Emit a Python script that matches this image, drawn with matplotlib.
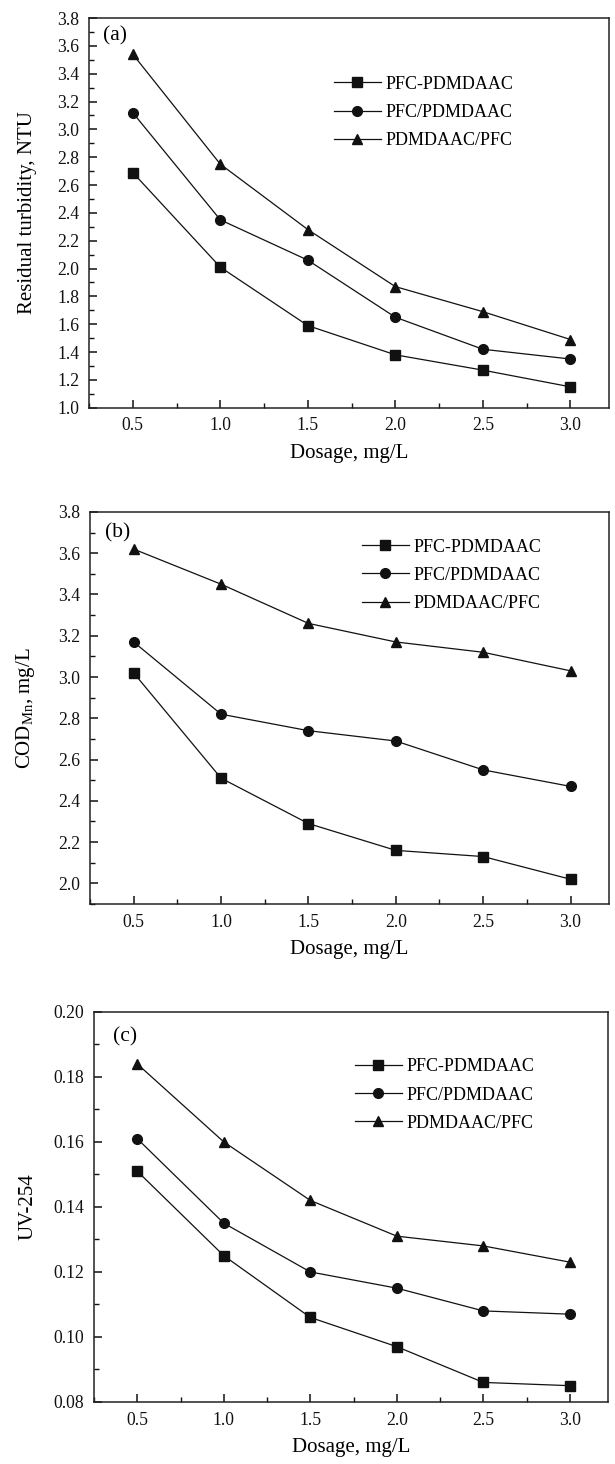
import numpy as np
import matplotlib.pyplot as plt
from matplotlib.ticker import MultipleLocator, FormatStrFormatter

plt.rcParams['font.family'] = ['Liberation Serif', 'DejaVu Serif']
plt.rcParams['mathtext.fontset'] = 'custom'
plt.rcParams['mathtext.rm'] = 'Liberation Serif'

dosage = [0.5, 1.0, 1.5, 2.0, 2.5, 3.0]
series_names = ['PFC-PDMDAAC', 'PFC/PDMDAAC', 'PDMDAAC/PFC']

# residual turbidity, NTU
turb_combined = [2.69, 2.01, 1.59, 1.38, 1.27, 1.15]
turb_pfc_first = [3.12, 2.35, 2.06, 1.65, 1.42, 1.35]
turb_pd_first = [3.54, 2.75, 2.28, 1.87, 1.69, 1.49]

# COD_Mn, mg/L
cod_combined = [3.02, 2.51, 2.29, 2.16, 2.13, 2.02]
cod_pfc_first = [3.17, 2.82, 2.74, 2.69, 2.55, 2.47]
cod_pd_first = [3.62, 3.45, 3.26, 3.17, 3.12, 3.03]

# UV-254
uv_combined = [0.151, 0.125, 0.106, 0.097, 0.086, 0.085]
uv_pfc_first = [0.161, 0.135, 0.120, 0.115, 0.108, 0.107]
uv_pd_first = [0.184, 0.160, 0.142, 0.131, 0.128, 0.123]

markers = ['s', 'o', '^']
msizes = [6.5, 7.0, 7.8]
ink = '#111111'

fig = plt.figure(figsize=(6.15, 14.64), dpi=100)

panels = [
    dict(rect=[0.1447, 0.7215, 0.8455, 0.2662], data=[turb_combined, turb_pfc_first, turb_pd_first],
         ylim=(1.0, 3.8), major=0.2, minor=0.1, fmt='%.1f', tag='(a)', tag_xy=(0.027, 0.955),
         ylabel='Residual turbidity, NTU', ylab_x=-0.10, leg=(0.471, 0.852)),
    dict(rect=[0.1463, 0.3825, 0.8439, 0.2678], data=[cod_combined, cod_pfc_first, cod_pd_first],
         ylim=(1.9, 3.8), major=0.2, minor=0.1, fmt='%.1f', tag='(b)', tag_xy=(0.029, 0.946),
         ylabel=r'COD$_{\mathrm{Mn}}$, mg/L', ylab_x=-0.103, leg=(0.524, 0.932)),
    dict(rect=[0.1528, 0.0424, 0.8358, 0.2664], data=[uv_combined, uv_pfc_first, uv_pd_first],
         ylim=(0.08, 0.20), major=0.02, minor=0.01, fmt='%.2f', tag='(c)', tag_xy=(0.037, 0.936),
         ylabel='UV-254', ylab_x=-0.11, leg=(0.507, 0.881)),
]

for p in panels:
    ax = fig.add_axes(p['rect'])
    for vals, m, ms, name in zip(p['data'], markers, msizes, series_names):
        ax.plot(dosage, vals, marker=m, color=ink, markersize=ms, linewidth=0.9, label=name)

    ax.set_xlim(0.25, 3.22)
    ax.set_ylim(*p['ylim'])
    ax.xaxis.set_major_locator(MultipleLocator(0.5))
    ax.xaxis.set_minor_locator(MultipleLocator(0.25))
    ax.xaxis.set_major_formatter(FormatStrFormatter('%.1f'))
    ax.yaxis.set_major_locator(MultipleLocator(p['major']))
    ax.yaxis.set_minor_locator(MultipleLocator(p['minor']))
    ax.yaxis.set_major_formatter(FormatStrFormatter(p['fmt']))

    ax.tick_params(which='both', direction='in', top=False, right=False, colors=ink, labelsize=12.7)
    ax.tick_params(which='major', length=6, width=1.1, pad=7)
    ax.tick_params(which='minor', length=3.5, width=1.0)
    for sp in ax.spines.values():
        sp.set_linewidth(1.1)
        sp.set_color('#222222')

    ax.set_xlabel('Dosage, mg/L', fontsize=15, labelpad=7)
    ax.set_ylabel(p['ylabel'], fontsize=15)
    ax.yaxis.set_label_coords(p['ylab_x'], 0.5)

    ax.text(p['tag_xy'][0], p['tag_xy'][1], p['tag'], transform=ax.transAxes,
            fontsize=15.5, va='center', ha='left')

    ax.legend(loc='upper left', bbox_to_anchor=p['leg'], frameon=False, fontsize=13,
              handlelength=2.6, handletextpad=0.25, labelspacing=0.62,
              borderpad=0, borderaxespad=0, numpoints=1)

fig.savefig('out.png', dpi=100)
